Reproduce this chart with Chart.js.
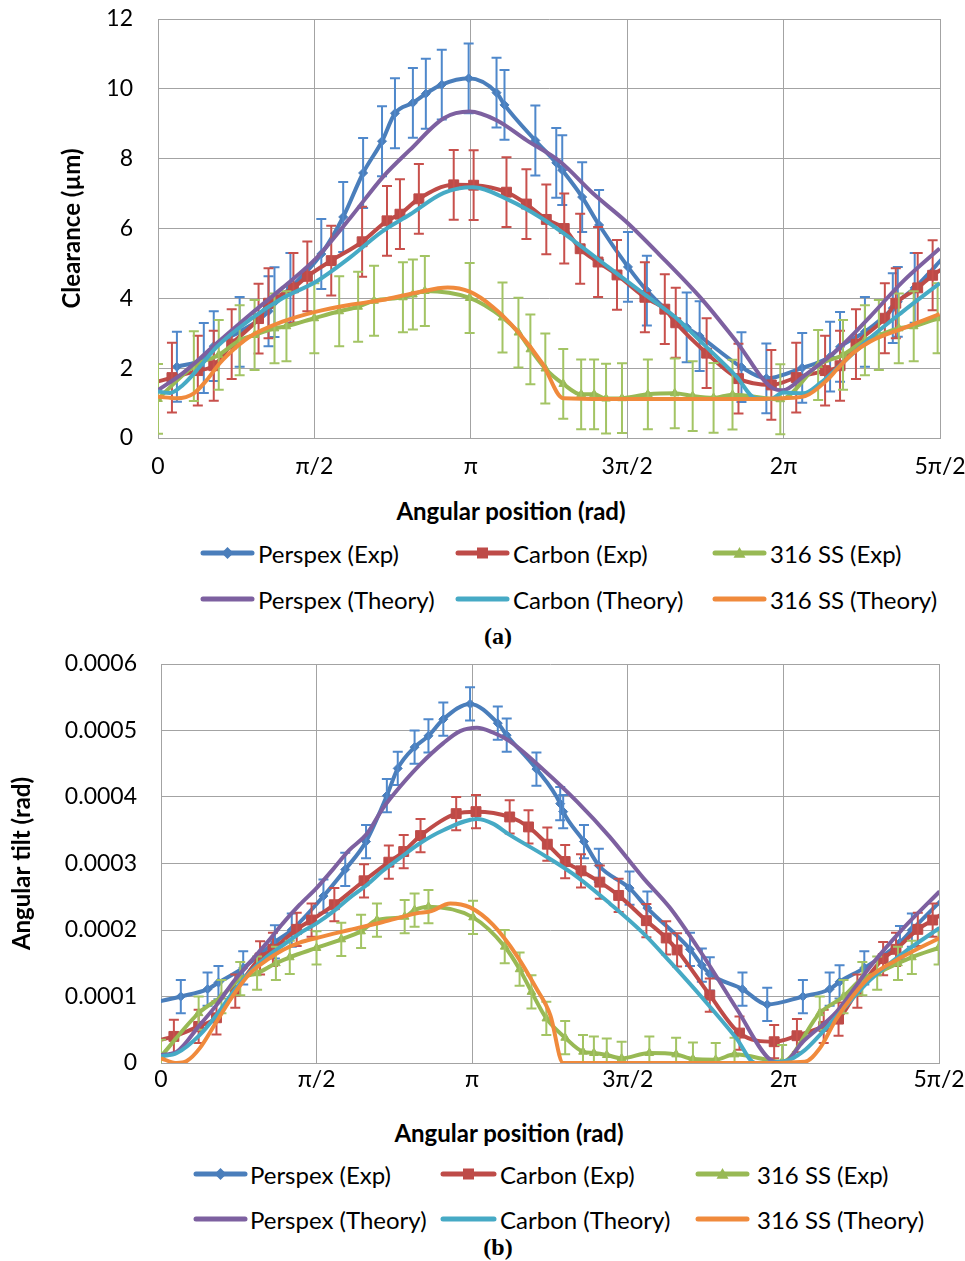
<!DOCTYPE html>
<html lang="en">
<head>
<meta charset="utf-8">
<title>Clearance and angular tilt</title>
<script src="https://cdn.jsdelivr.net/npm/chart.js@4.4.1/dist/chart.umd.min.js"></script>
<style>
  body { margin: 0; width: 965px; height: 1261px; background: #fff; position: relative; overflow: hidden; font-family: Lato, sans-serif; color: #000; }
  canvas.grafico { position: absolute; left: 0; }
  .titulo-x { position: absolute; font-weight: bold; font-size: 24px; white-space: nowrap; transform: translate(-50%, -50%); }
  .legenda-texto { position: absolute; font-size: 24px; white-space: nowrap; transform: translateY(-50%); }
  .amostra { position: absolute; }
  .rotulo { position: absolute; font: bold 24px "Liberation Serif", "Times New Roman", serif; transform: translate(-50%, -50%); }
</style>
</head>
<body>
<canvas id="graficoFolga" class="grafico" width="965" height="490" style="top:0"></canvas>
<div class="titulo-x" style="left:511px;top:510px">Angular position (rad)</div>
<div class="rotulo" style="left:498px;top:636px">(a)</div>

<canvas id="graficoInclinacao" class="grafico" width="965" height="450" style="top:645px"></canvas>
<div class="titulo-x" style="left:509px;top:1132px">Angular position (rad)</div>
<div class="rotulo" style="left:498px;top:1247px">(b)</div>

<script>
// Rótulos do eixo x em múltiplos de π/2
const xTickValues = [0, Math.PI / 2, Math.PI, 3 * Math.PI / 2, 2 * Math.PI, 5 * Math.PI / 2];
const xTickLabels = ['0', 'π/2', 'π', '3π/2', '2π', '5π/2'];

const yTicksFolga = [0, 2, 4, 6, 8, 10, 12];
const yLabelsFolga = ['0', '2', '4', '6', '8', '10', '12'];
const yTicksInclinacao = [0, 0.0001, 0.0002, 0.0003, 0.0004, 0.0005, 0.0006];
const yLabelsInclinacao = ['0', '0.0001', '0.0002', '0.0003', '0.0004', '0.0005', '0.0006'];

const nomesSeries = ['Perspex (Exp)', 'Carbon (Exp)', '316 SS (Exp)', 'Perspex (Theory)', 'Carbon (Theory)', '316 SS (Theory)'];

// Barras de erro (±) de cada gráfico
const erroFolga = 1.0;
const erroInclinacao = 0.000025;

// ---- (a) Folga (µm) ----
const aPerspexExpX = [0.19, 0.46, 0.56, 0.82, 1.11, 1.17, 1.33, 1.64, 1.86, 2.06, 2.25, 2.38, 2.56, 2.69, 2.85, 3.12, 3.40, 3.48, 3.79, 4.00, 4.06, 4.26, 4.43, 4.72, 4.91, 5.31, 5.44, 5.86, 6.11, 6.47, 6.75, 6.85, 7.10, 7.38, 7.43, 7.60, 7.92];
const aPerspexExpY = [2.04, 2.29, 2.63, 3.04, 3.63, 3.89, 4.30, 5.27, 6.33, 7.59, 8.50, 9.30, 9.60, 9.86, 10.12, 10.30, 9.89, 9.54, 8.52, 7.88, 7.67, 6.90, 6.10, 4.90, 4.22, 3.17, 2.92, 2.03, 1.71, 2.01, 2.33, 2.61, 3.04, 3.72, 3.90, 4.30, 5.27];

const aCarbonExpX = [-0.12, 0.14, 0.40, 0.56, 0.74, 1.01, 1.11, 1.36, 1.50, 1.74, 2.05, 2.30, 2.43, 2.62, 2.97, 3.17, 3.50, 3.70, 3.90, 4.08, 4.24, 4.42, 4.61, 4.89, 5.09, 5.20, 5.51, 5.83, 6.16, 6.41, 6.70, 6.85, 7.01, 7.30, 7.41, 7.63, 7.78, 8.02];
const aCarbonExpY = [1.52, 1.73, 1.93, 2.07, 2.69, 3.42, 3.86, 4.30, 4.63, 5.08, 5.62, 6.22, 6.41, 6.85, 7.25, 7.24, 7.04, 6.70, 6.26, 6.00, 5.42, 5.04, 4.67, 4.03, 3.69, 3.30, 2.43, 1.70, 1.52, 1.73, 1.93, 2.07, 2.69, 3.43, 3.86, 4.30, 4.66, 5.08];

const aSSExpX = [0.00, 0.36, 0.61, 0.82, 0.97, 1.17, 1.29, 1.57, 1.82, 2.01, 2.17, 2.46, 2.56, 2.68, 3.13, 3.46, 3.62, 3.74, 3.89, 4.07, 4.25, 4.38, 4.50, 4.66, 4.92, 5.19, 5.37, 5.58, 5.77, 6.25, 6.63, 6.88, 7.10, 7.24, 7.44, 7.59, 7.83];
const aSSExpY = [1.12, 2.06, 2.38, 2.80, 2.95, 3.14, 3.20, 3.43, 3.63, 3.76, 3.93, 4.03, 4.11, 4.21, 4.01, 3.45, 3.02, 2.54, 1.99, 1.55, 1.25, 1.25, 1.13, 1.14, 1.25, 1.28, 1.20, 1.15, 1.24, 1.11, 2.09, 2.38, 2.80, 2.95, 3.14, 3.20, 3.43];

const aPerspexTeoX = [0, 0.25, 0.59, 0.92, 1.25, 1.59, 1.93, 2.26, 2.53, 2.87, 3.13, 3.40, 3.70, 4.04, 4.37, 4.70, 5.04, 5.47, 5.81, 6.18, 6.28, 6.48, 6.82, 7.15, 7.48, 7.85];
const aPerspexTeoY = [1.37, 1.86, 2.71, 3.52, 4.30, 5.15, 6.30, 7.48, 8.25, 9.16, 9.35, 9.10, 8.53, 7.91, 7.00, 6.20, 5.24, 3.95, 2.76, 1.42, 1.37, 1.76, 2.52, 3.47, 4.48, 5.43];

const aCarbonTeoX = [0, 0.12, 0.25, 0.42, 0.59, 0.92, 1.25, 1.59, 1.92, 2.25, 2.53, 2.87, 3.16, 3.52, 3.85, 4.19, 4.52, 4.85, 5.19, 5.47, 5.81, 6.00, 6.15, 6.28, 6.48, 6.65, 6.82, 7.15, 7.48, 7.85];
const aCarbonTeoY = [1.33, 1.29, 1.52, 2.04, 2.61, 3.38, 4.00, 4.48, 5.15, 5.91, 6.40, 7.02, 7.18, 6.82, 6.30, 5.62, 4.90, 4.19, 3.47, 2.71, 1.76, 1.14, 1.12, 1.30, 1.28, 1.57, 2.00, 2.86, 3.62, 4.43];

const aSSTeoX = [0, 0.19, 0.36, 0.49, 0.62, 0.79, 0.92, 1.25, 1.59, 1.92, 2.25, 2.59, 2.91, 3.13, 3.36, 3.60, 3.86, 4.07, 4.50, 5.00, 5.50, 6.00, 6.28, 6.50, 6.72, 6.82, 6.98, 7.15, 7.48, 7.85];
const aSSTeoY = [1.18, 1.14, 1.28, 1.66, 2.14, 2.61, 2.90, 3.33, 3.62, 3.81, 3.95, 4.16, 4.31, 4.19, 3.76, 3.09, 2.14, 1.14, 1.12, 1.12, 1.12, 1.12, 1.14, 1.20, 1.66, 1.97, 2.43, 2.76, 3.14, 3.55];

// ---- (b) Inclinação angular (rad) ----
const bPerspexExpX = [-0.16, 0.20, 0.47, 0.58, 0.83, 1.15, 1.32, 1.64, 1.86, 2.07, 2.28, 2.39, 2.56, 2.70, 2.85, 3.12, 3.40, 3.49, 3.79, 4.03, 4.06, 4.27, 4.42, 4.73, 4.91, 5.34, 5.46, 5.54, 5.87, 6.12, 6.48, 6.75, 6.85, 7.10, 7.46, 7.58, 7.92];
const bPerspexExpY = [0.000088, 0.000100, 0.000111, 0.000121, 0.000143, 0.000182, 0.000200, 0.000251, 0.000291, 0.000333, 0.000402, 0.000443, 0.000475, 0.000492, 0.000517, 0.000540, 0.000511, 0.000493, 0.000442, 0.000390, 0.000378, 0.000333, 0.000297, 0.000263, 0.000233, 0.000171, 0.000147, 0.000134, 0.000111, 0.000088, 0.000100, 0.000111, 0.000122, 0.000143, 0.000181, 0.000200, 0.000251];

const bCarbonExpX = [-0.09, 0.13, 0.38, 0.56, 0.75, 1.00, 1.13, 1.37, 1.52, 1.75, 2.05, 2.30, 2.45, 2.62, 2.98, 3.18, 3.52, 3.71, 3.90, 4.08, 4.24, 4.43, 4.62, 4.90, 5.10, 5.21, 5.54, 5.84, 6.19, 6.42, 6.69, 6.84, 7.03, 7.29, 7.42, 7.64, 7.79, 8.03];
const bCarbonExpY = [0.000032, 0.000040, 0.000055, 0.000068, 0.000108, 0.000158, 0.000171, 0.000201, 0.000215, 0.000238, 0.000274, 0.000302, 0.000318, 0.000342, 0.000375, 0.000378, 0.000370, 0.000355, 0.000329, 0.000303, 0.000289, 0.000272, 0.000252, 0.000214, 0.000188, 0.000170, 0.000102, 0.000045, 0.000032, 0.000041, 0.000055, 0.000066, 0.000108, 0.000157, 0.000171, 0.000201, 0.000215, 0.000238];

const bSSExpX = [0.00, 0.38, 0.61, 0.80, 0.97, 1.16, 1.30, 1.57, 1.82, 2.02, 2.18, 2.46, 2.56, 2.70, 3.15, 3.47, 3.62, 3.74, 3.89, 4.08, 4.26, 4.37, 4.50, 4.65, 4.93, 5.20, 5.37, 5.60, 5.79, 6.27, 6.65, 6.89, 7.08, 7.23, 7.44, 7.58, 7.85];
const bSSExpY = [0.000010, 0.000075, 0.000100, 0.000127, 0.000135, 0.000150, 0.000159, 0.000173, 0.000186, 0.000198, 0.000215, 0.000220, 0.000230, 0.000235, 0.000219, 0.000175, 0.000141, 0.000107, 0.000067, 0.000038, 0.000017, 0.000015, 0.000012, 0.000007, 0.000015, 0.000013, 0.000006, 0.000005, 0.000013, 0.000002, 0.000075, 0.000100, 0.000127, 0.000135, 0.000150, 0.000159, 0.000173];

const bPerspexTeoX = [0, 0.16, 0.39, 0.56, 0.73, 0.90, 1.07, 1.23, 1.40, 1.57, 1.74, 1.90, 2.08, 2.24, 2.41, 2.61, 2.85, 3.02, 3.19, 3.35, 3.52, 3.86, 4.20, 4.53, 4.87, 5.14, 5.47, 5.81, 6.15, 6.28, 6.48, 6.82, 7.16, 7.49, 7.86];
const bPerspexTeoY = [0.000012, 0.000017, 0.000057, 0.000087, 0.000122, 0.000152, 0.000181, 0.000210, 0.000238, 0.000263, 0.000292, 0.000320, 0.000345, 0.000383, 0.000415, 0.000448, 0.000481, 0.000499, 0.000504, 0.000497, 0.000484, 0.000441, 0.000393, 0.000340, 0.000278, 0.000233, 0.000162, 0.000082, 0.000005, 0.000000, 0.000032, 0.000077, 0.000145, 0.000202, 0.000258];

const bCarbonTeoX = [0, 0.16, 0.39, 0.56, 0.73, 0.90, 1.07, 1.23, 1.40, 1.57, 1.74, 1.90, 2.08, 2.24, 2.41, 2.61, 2.85, 3.19, 3.35, 3.52, 3.86, 4.20, 4.53, 4.87, 5.14, 5.47, 5.81, 6.00, 6.31, 6.48, 6.65, 6.82, 7.16, 7.49, 7.86];
const bCarbonTeoY = [0.000010, 0.000015, 0.000042, 0.000072, 0.000107, 0.000137, 0.000160, 0.000177, 0.000195, 0.000210, 0.000228, 0.000248, 0.000268, 0.000289, 0.000308, 0.000330, 0.000350, 0.000367, 0.000360, 0.000343, 0.000313, 0.000280, 0.000240, 0.000195, 0.000152, 0.000097, 0.000037, 0.000000, 0.000003, 0.000017, 0.000042, 0.000070, 0.000125, 0.000165, 0.000203];

const bSSTeoX = [0, 0.16, 0.26, 0.39, 0.56, 0.73, 0.90, 1.07, 1.23, 1.40, 1.57, 1.90, 2.24, 2.58, 2.72, 2.92, 3.12, 3.35, 3.59, 3.79, 3.93, 4.06, 5.00, 6.00, 6.50, 6.65, 6.82, 6.99, 7.16, 7.49, 7.86];
const bSSTeoY = [0.000007, 0.000000, 0.000003, 0.000022, 0.000062, 0.000102, 0.000135, 0.000155, 0.000170, 0.000181, 0.000188, 0.000200, 0.000212, 0.000225, 0.000228, 0.000240, 0.000234, 0.000208, 0.000162, 0.000112, 0.000072, 0.000000, 0.000000, 0.000000, 0.000002, 0.000022, 0.000067, 0.000102, 0.000130, 0.000160, 0.000188];

// Cores e marcadores de cada série
const estilos = [
    { cor: '#4A7EBB', corErro: '#4F88CB', ponto: 'losango', raio: 4.5 },
    { cor: '#BE4B48', corErro: '#C8504C', ponto: 'quadrado', raio: 7 },
    { cor: '#98B954', corErro: '#A3C464', ponto: 'triangulo', raio: 5 },
    { cor: '#7D60A0' },
    { cor: '#46AAC5' },
    { cor: '#F08A3C' }
];

const estiloChartJs = { losango: 'rectRot', quadrado: 'rect', triangulo: 'triangle' };

// Função para montar os datasets de um gráfico
function montarDatasets(pares, erro) {
    return pares.map(([xs, ys], i) => {
        const e = estilos[i];
        const experimental = i < 3;
        return {
            label: nomesSeries[i],
            data: xs.map((x, j) => ({ x: x, y: ys[j] })),
            showLine: true,
            borderColor: e.cor,
            backgroundColor: e.cor,
            borderWidth: 4,
            cubicInterpolationMode: 'monotone',
            pointStyle: experimental ? estiloChartJs[e.ponto] : false,
            pointRadius: experimental ? e.raio : 0,
            pointBorderWidth: 1,
            pointHoverRadius: 0,
            order: 6 - i,
            erro: experimental ? erro : 0,
            corErro: e.corErro
        };
    });
}

// Plugin que desenha as barras de erro logo depois de cada série
const barrasErro = {
    id: 'barrasErro',
    afterDatasetDraw(chart, args) {
        const ds = chart.data.datasets[args.index];
        if (!ds.erro) return;
        const { ctx, chartArea } = chart;
        const x = chart.scales.x, y = chart.scales.y;
        ctx.save();
        ctx.beginPath();
        ctx.rect(chartArea.left, chartArea.top, chartArea.right - chartArea.left, chartArea.bottom - chartArea.top);
        ctx.clip();
        ctx.strokeStyle = ds.corErro;
        ctx.lineWidth = 2;
        ds.data.forEach(p => {
            const px = x.getPixelForValue(p.x);
            const topo = y.getPixelForValue(p.y + ds.erro);
            const base = y.getPixelForValue(p.y - ds.erro);
            ctx.beginPath();
            ctx.moveTo(px, topo); ctx.lineTo(px, base);
            ctx.moveTo(px - 5, topo); ctx.lineTo(px + 5, topo);
            ctx.moveTo(px - 5, base); ctx.lineTo(px + 5, base);
            ctx.stroke();
        });
        ctx.restore();
    }
};

function opcoes(cfg) {
    const grade = { color: '#A3A3A3', drawTicks: false };
    const borda = { color: '#A3A3A3' };
    const fonteTick = { family: 'Lato', size: 23 };
    return {
        responsive: false,
        animation: false,
        events: [],
        layout: { padding: { top: cfg.topo, right: cfg.direita, left: 0, bottom: 0 } },
        plugins: { legend: { display: false }, tooltip: { enabled: false } },
        scales: {
            x: {
                type: 'linear',
                min: 0,
                max: 5 * Math.PI / 2,
                grid: grade,
                border: borda,
                ticks: { padding: cfg.padX, color: '#000', font: fonteTick, maxRotation: 0, autoSkip: false,
                    callback: (v, i) => xTickLabels[i] },
                afterBuildTicks: s => { s.ticks = xTickValues.map(value => ({ value })); },
                afterFit: s => { s.height = cfg.alturaX; s.paddingLeft = 0; s.paddingRight = 0; }
            },
            y: {
                type: 'linear',
                min: 0,
                max: cfg.yTicks[cfg.yTicks.length - 1],
                grid: grade,
                border: borda,
                ticks: { padding: cfg.padY, color: '#000', font: fonteTick, autoSkip: false,
                    callback: (v, i) => cfg.yLabels[i] },
                afterBuildTicks: s => { s.ticks = cfg.yTicks.map(value => ({ value })); },
                afterFit: s => { s.width = cfg.larguraY; s.paddingTop = 0; s.paddingBottom = 0; },
                title: { display: true, text: cfg.tituloY, color: '#000',
                    font: { family: 'Lato', size: 24, weight: 'bold' },
                    padding: { top: cfg.padTitulo, bottom: 0 } }
            }
        }
    };
}

// Desenha o marcador da legenda
function desenharMarcador(c, tipo, x, y, r) {
    c.beginPath();
    if (tipo === 'losango') {
        c.moveTo(x, y - r); c.lineTo(x + r, y); c.lineTo(x, y + r); c.lineTo(x - r, y);
    } else if (tipo === 'quadrado') {
        c.rect(x - r, y - r, 2 * r, 2 * r);
    } else {
        c.moveTo(x, y - r); c.lineTo(x + r, y + r * 0.8); c.lineTo(x - r, y + r * 0.8);
    }
    c.closePath();
    c.fill();
}

// Legenda em HTML: 3 colunas, 2 linhas
function criarLegenda(datasets, colunas, linhas) {
    datasets.forEach((ds, i) => {
        const col = colunas[i % 3];
        const lin = linhas[Math.floor(i / 3)];
        const e = estilos[i];

        const amostra = document.createElement('canvas');
        amostra.className = 'amostra';
        amostra.width = col[1] - col[0];
        amostra.height = 20;
        amostra.style.left = col[0] + 'px';
        amostra.style.top = (lin - 10) + 'px';
        const c = amostra.getContext('2d');
        c.strokeStyle = e.cor;
        c.fillStyle = e.cor;
        c.lineWidth = 5;
        c.lineCap = 'round';
        c.beginPath();
        c.moveTo(3, 10);
        c.lineTo(amostra.width - 3, 10);
        c.stroke();
        if (e.ponto) desenharMarcador(c, e.ponto, amostra.width / 2, 10, e.ponto === 'quadrado' ? 5.5 : 6);
        document.body.appendChild(amostra);

        const texto = document.createElement('div');
        texto.className = 'legenda-texto';
        texto.textContent = ds.label;
        texto.style.left = col[2] + 'px';
        texto.style.top = lin + 'px';
        document.body.appendChild(texto);
    });
}

const datasetsFolga = montarDatasets([
    [aPerspexExpX, aPerspexExpY], [aCarbonExpX, aCarbonExpY], [aSSExpX, aSSExpY],
    [aPerspexTeoX, aPerspexTeoY], [aCarbonTeoX, aCarbonTeoY], [aSSTeoX, aSSTeoY]
], erroFolga);

const datasetsInclinacao = montarDatasets([
    [bPerspexExpX, bPerspexExpY], [bCarbonExpX, bCarbonExpY], [bSSExpX, bSSExpY],
    [bPerspexTeoX, bPerspexTeoY], [bCarbonTeoX, bCarbonTeoY], [bSSTeoX, bSSTeoY]
], erroInclinacao);

new Chart(document.getElementById('graficoFolga'), {
    type: 'scatter',
    data: { datasets: datasetsFolga },
    options: opcoes({
        topo: 19, direita: 25, larguraY: 158, alturaX: 52, padX: 15, padY: 25, padTitulo: 58,
        yTicks: yTicksFolga, yLabels: yLabelsFolga, tituloY: 'Clearance (µm)'
    }),
    plugins: [barrasErro]
});

new Chart(document.getElementById('graficoInclinacao'), {
    type: 'scatter',
    data: { datasets: datasetsInclinacao },
    options: opcoes({
        topo: 19, direita: 26, larguraY: 161, alturaX: 32, padX: 3, padY: 24, padTitulo: 8,
        yTicks: yTicksInclinacao, yLabels: yLabelsInclinacao, tituloY: 'Angular tilt (rad)'
    }),
    plugins: [barrasErro]
});

criarLegenda(datasetsFolga, [[200, 255, 258], [455, 510, 513], [712, 767, 770]], [553, 599]);
criarLegenda(datasetsInclinacao, [[193, 248, 250], [440, 497, 500], [695, 750, 757]], [1174, 1219]);
</script>
</body>
</html>
